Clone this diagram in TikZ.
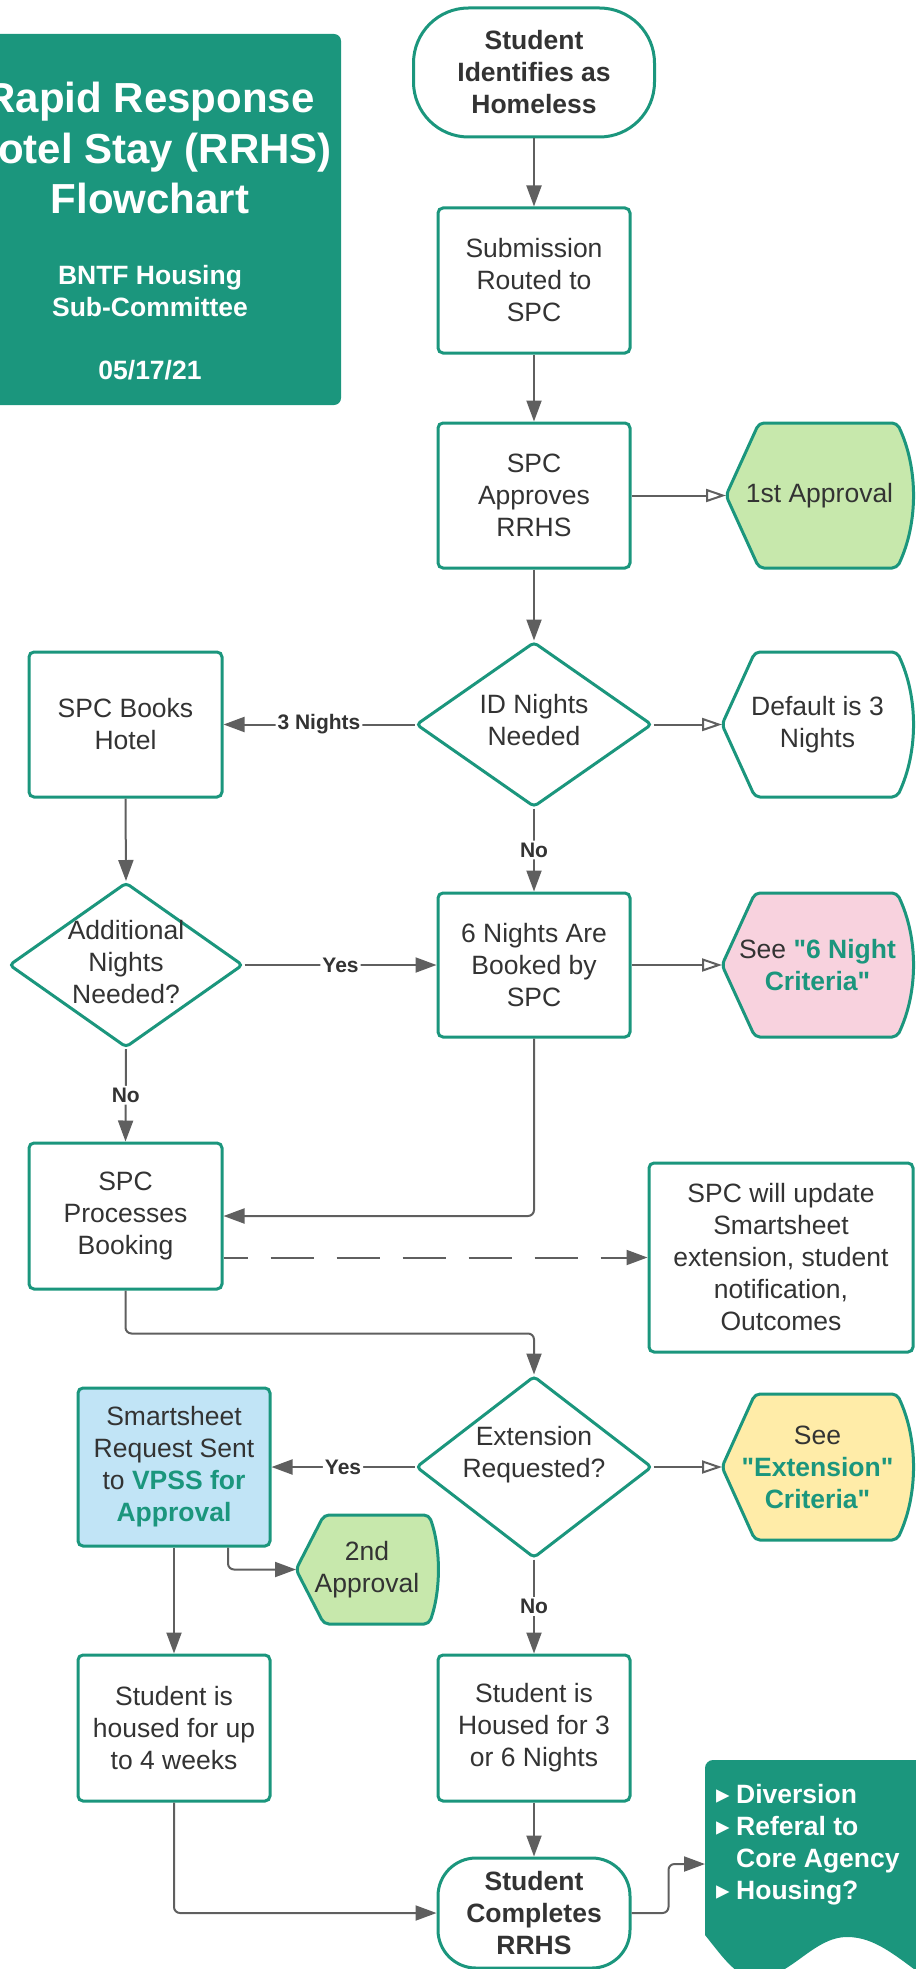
\documentclass[tikz,border=0pt]{standalone}
\usepackage{fontspec}
\setmainfont{Liberation Sans}[Ligatures=TeXOff]
\newfontfamily\dejavu{DejaVu Sans}
\usetikzlibrary{arrows.meta,shapes.geometric,calc,backgrounds}
\definecolor{tealc}{RGB}{27,150,125}
\definecolor{darktext}{RGB}{51,51,51}
\definecolor{arrowgray}{RGB}{95,95,95}
\definecolor{lgreen}{RGB}{199,232,172}
\definecolor{lpink}{RGB}{248,210,222}
\definecolor{lyellow}{RGB}{255,236,168}
\definecolor{lblue}{RGB}{193,228,246}
\newcommand\bt[1]{{\bfseries\color{tealc}#1}}
\newcommand\bul{\makebox[17pt][l]{\hspace*{-3pt}{\dejavu\fontsize{27}{27}\selectfont ▸}}}
% #1 node, #2 fill, #3 left inset, #4 right inset, #5 vertical control distance
\newcommand\dispshape[5]{%
  \path[draw=tealc,line width=3pt,fill=#2,rounded corners=5pt]
    ($(#1.north west)+(#3,0)$) -- (#1.west) -- ($(#1.south west)+(#3,0)$) -- ($(#1.south east)+(-#4,0)$)
    .. controls ($(#1.south east)+({#4/3},-#5)$) and ($(#1.north east)+({#4/3},#5)$) .. ($(#1.north east)+(-#4,0)$)
    -- cycle;}
\tikzset{
  base/.style={font=\fontsize{26.5}{32}\selectfont, text=darktext, align=center, inner sep=0pt},
  box/.style={base, draw=tealc, line width=3pt, rounded corners=5pt, fill=white, minimum width=192pt, minimum height=145pt},
  dia/.style={draw=tealc, line width=3pt, fill=white, shape=diamond, rounded corners=4pt, inner sep=0pt},
  disp/.style={base, minimum width=191pt, minimum height=145pt, outer sep=0pt},
  arr/.style={draw=arrowgray, line width=2pt, rounded corners=6pt, -{Triangle[length=21pt,width=15pt]}},
  oarr/.style={draw=arrowgray, line width=2pt, -{Triangle[open,length=20pt,width=13pt]}},
  lab/.style={font=\fontsize{21}{25}\selectfont\bfseries, text=darktext, fill=white, inner sep=2pt},
  titlebox/.style={fill=tealc, rounded corners=7pt, minimum width=361pt, minimum height=371pt, inner sep=0pt},
  titletxt/.style={text=white, align=center, inner sep=0pt},
}
\begin{document}
\begin{tikzpicture}[x=1pt,y=-1pt]
\useasboundingbox (0,0) rectangle (915,1969);
% title
\node[titlebox] (tbox) at (160.5,219.5) {};
\node[titletxt, font=\fontsize{42}{50.5}\selectfont\bfseries] (t1) at (150,148) {Rapid Response\\Hotel Stay (RRHS)\\Flowchart};
\node[titletxt, font=\fontsize{26.5}{32}\selectfont\bfseries] (t2) at (150,291) {BNTF Housing\\Sub-Committee};
\node[titletxt, font=\fontsize{26.5}{32}\selectfont\bfseries] (t3) at (150,370) {05/17/21};
% main nodes
\node[box, rounded corners=55pt, minimum width=241pt, minimum height=129pt, font=\fontsize{26.5}{32}\selectfont\bfseries] (start) at (534,72.5) {Student\\Identifies as\\Homeless};
\node[box] (sub) at (534,280.5) {Submission\\Routed to\\SPC};
\node[box] (appr) at (534,495.5) {SPC\\Approves\\RRHS};
\node[disp, minimum width=187pt] (first) at (819.5,495.5) {1st Approval};
\node[dia, minimum width=236pt, minimum height=165pt] (idn) at (534,724.5) {};
\node[base] (idnt) at (534,720) {ID Nights\\Needed};
\node[box, minimum width=193pt] (books) at (125.5,724.5) {SPC Books\\Hotel};
\node[disp] (def) at (817.5,724.5) {Default is 3\\Nights};
\node[dia, minimum width=234pt, minimum height=165pt] (addn) at (126,965) {};
\node[base] (addnt) at (126,962) {Additional\\Nights\\Needed?};
\node[box, minimum height=144pt] (six) at (534,965) {6 Nights Are\\Booked by\\SPC};
\node[disp, minimum height=144pt] (sixc) at (817.5,965) {See \bt{"6 Night}\\\bt{Criteria"}};
\node[box, minimum width=193pt, minimum height=146pt] (proc) at (125.5,1216) {SPC\\Processes\\Booking};
\node[box, minimum width=264pt, minimum height=189pt] (upd) at (781,1257.5) {SPC will update\\Smartsheet\\extension, student\\notification,\\Outcomes};
\node[dia, minimum width=236pt, minimum height=182pt] (ext) at (534,1467) {};
\node[base] (extt) at (534,1455) {Extension\\Requested?};
\node[box, fill=lblue, minimum height=158pt] (smart) at (174,1467) {Smartsheet\\Request Sent\\to \bt{VPSS for}\\\bt{Approval}};
\node[disp, minimum height=146pt] (extc) at (817.5,1467) {See\\\bt{"Extension"}\\\bt{Criteria"}};
\node[disp, minimum width=142pt, minimum height=109pt] (second) at (367,1569.5) {2nd\\Approval};
\node[box, minimum height=146pt] (h4w) at (174,1728) {Student is\\housed for up\\to 4 weeks};
\node[box, minimum height=146pt] (h36) at (534,1728) {Student is\\Housed for 3\\or 6 Nights};
\node[box, rounded corners=38pt, minimum height=110pt, font=\fontsize{26.5}{32}\selectfont\bfseries] (done) at (534,1913) {Student\\Completes\\RRHS};
\node[minimum width=230pt, minimum height=230pt, inner sep=0pt, outer sep=0pt] (doc) at (820,1875) {};
\node[base, anchor=west, align=left, text=white, font=\fontsize{26.5}{32}\selectfont\bfseries] (doct) at (719,1845) {\bul Diversion\\\bul Referal to\\\hspace*{17pt}Core Agency\\\bul Housing?};
% background shapes
\begin{pgfonlayer}{background}
\dispshape{first}{lgreen}{33}{16}{45}
\dispshape{def}{white}{33}{16}{45}
\dispshape{sixc}{lpink}{33}{16}{45}
\dispshape{extc}{lyellow}{33}{16}{45}
\dispshape{second}{lgreen}{28}{9}{33}
\fill[tealc, shift={(doc.north west)}] (0,175) [rounded corners=8pt] -- (0,0) -- (230,0) [sharp corners] -- (230,225)
  .. controls (190,195) and (170,177) .. (142,177)
  .. controls (108,177) and (85,218) .. (52,218)
  .. controls (32,218) and (20,200) .. (0,175) -- cycle;
\end{pgfonlayer}
% connectors
\draw[arr] (start.south) -- (sub.north);
\draw[arr] (sub.south) -- (appr.north);
\draw[arr] (appr.south) -- (idn.north);
\draw[oarr] (appr.east) -- (first.west);
\draw[arr] (idn.west) -- node[lab]{3 Nights} (books.east);
\draw[oarr] (idn.east) -- (def.west);
\draw[arr] (idn.south) -- node[lab]{No} (six.north);
\draw[arr] (books.south) -- (addn.north);
\draw[arr] (addn.east) -- node[lab]{Yes} (six.west);
\draw[oarr] (six.east) -- (sixc.west);
\draw[arr] (addn.south) -- node[lab]{No} (proc.north);
\draw[arr] (six.south) |- (proc.east);
\draw[arr, dash pattern=on 43pt off 23pt, dash phase=19pt] (proc.east |- upd.west) -- (upd.west);
\draw[arr] (proc.south) -- ++(0,43) -| (ext.north);
\draw[arr] (ext.west) -- node[lab]{Yes} (smart.east);
\draw[oarr] (ext.east) -- (extc.west);
\draw[arr] (ext.south) -- node[lab]{No} (h36.north);
\draw[arr] (smart.south) -- (h4w.north);
\draw[arr] ($(smart.south)+(54,0)$) |- (second.west);
\draw[arr] (h4w.south) |- (done.west);
\draw[arr] (h36.south) -- (done.north);
\draw[arr] (done.east) -- ++(37,0) |- ($(doc.west)+(0,-11)$);
\end{tikzpicture}
\end{document}
